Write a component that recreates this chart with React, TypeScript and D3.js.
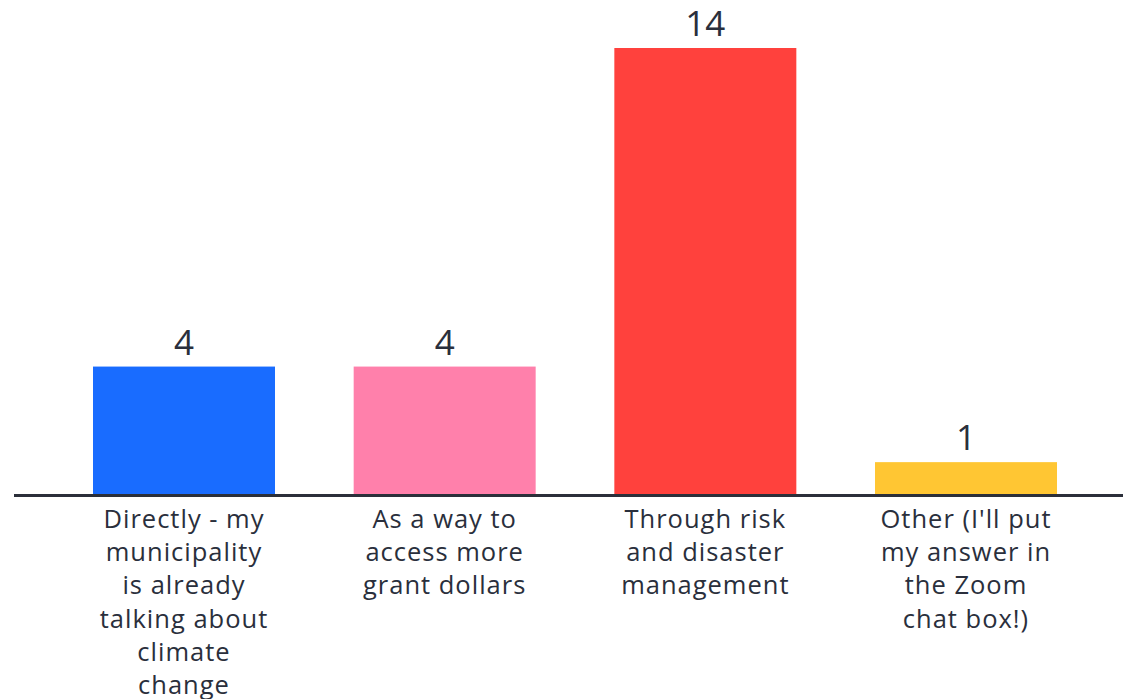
import React from "react";
import * as d3 from "d3";

const categories = [
  "Directly - my municipality is already talking about climate change",
  "As a way to access more grant dollars",
  "Through risk and disaster management",
  "Other (I'll put my answer in the Zoom chat box!)",
];
const labelLines = [
  ["Directly - my", "municipality", "is already", "talking about", "climate", "change"],
  ["As a way to", "access more", "grant dollars"],
  ["Through risk", "and disaster", "management"],
  ["Other (I'll put", "my answer in", "the Zoom", "chat box!)"],
];
const values = [4, 4, 14, 1];
const colors = ["#196cff", "#ff80ab", "#ff413d", "#ffc633"];

const W = 1123;
const H = 699;
const TEXT = "#2a2f3c";
const FONT = "'Open Sans', sans-serif";

export default function App() {
  const x = d3
    .scaleBand<string>()
    .domain(categories)
    .range([93, 1057])
    .paddingInner(0.3018)
    .paddingOuter(0);
  const y = d3.scaleLinear().domain([0, 14]).range([494, 48]);

  return (
    <svg
      width={W}
      height={H}
      style={{ position: "absolute", left: 0, top: 0, background: "#fff" }}
    >
      {categories.map((c, i) => {
        const x0 = x(c)!;
        const cx = x0 + x.bandwidth() / 2;
        return (
          <g key={c}>
            <rect
              x={x0}
              y={y(values[i])}
              width={x.bandwidth()}
              height={y(0) - y(values[i])}
              fill={colors[i]}
            />
            <text
              x={cx}
              y={y(values[i]) - 12}
              textAnchor="middle"
              fontFamily={FONT}
              fontSize={35}
              fill={TEXT}
            >
              {values[i]}
            </text>
            <text
              textAnchor="middle"
              fontFamily={FONT}
              fontSize={25.5}
              letterSpacing={1}
              fill={TEXT}
            >
              {labelLines[i].map((l, j) => (
                <tspan key={j} x={cx} y={528 + j * 33.2}>
                  {l}
                </tspan>
              ))}
            </text>
          </g>
        );
      })}
      <line x1={14} x2={W} y1={y(0) + 1.5} y2={y(0) + 1.5} stroke="#2b2f3a" strokeWidth={3} />
    </svg>
  );
}
